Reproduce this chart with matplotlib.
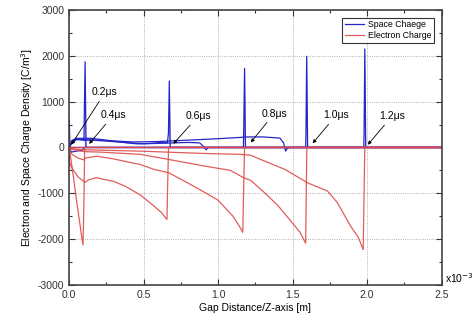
import matplotlib
matplotlib.use("Agg")
import matplotlib.pyplot as plt
from matplotlib.ticker import MultipleLocator, FormatStrFormatter

plt.rcParams['font.family'] = ['Liberation Sans', 'DejaVu Sans']
plt.rcParams['axes.unicode_minus'] = False

# gap distance in units of 1e-3 m, charge density in C/m^3
# electron charge curves (red), one per time step
r02_x = [0, 0.003, 0.006, 0.01, 2.5]
r02_y = [-480, -300, -80, 0, 0]
r04_x = [0, 0.01, 0.03, 0.05, 0.07, 0.085, 0.094, 0.1, 0.105, 2.5]
r04_y = [-50, -200, -650, -1150, -1600, -1950, -2130, -1200, 0, 0]
r06_x = [0, 0.02, 0.06, 0.1, 0.108, 0.13, 0.18, 0.3, 0.38, 0.48, 0.56, 0.62, 0.657, 0.662, 0.668, 2.5]
r06_y = [-300, -450, -640, -740, -760, -710, -660, -740, -850, -1040, -1250, -1420, -1570, -800, 0, 0]
r08_x = [0, 0.02, 0.06, 0.097, 0.11, 0.186, 0.3, 0.4, 0.478, 0.572, 0.668, 0.8, 0.9, 1.0, 1.1, 1.14, 1.166, 1.172, 1.178, 2.5]
r08_y = [-60, -150, -230, -270, -230, -190, -250, -320, -370, -480, -550, -780, -960, -1150, -1500, -1700, -1850, -900, 0, 0]
r10_x = [0, 0.1, 0.2, 0.478, 0.7, 0.9, 1.083, 1.166, 1.22, 1.3, 1.4, 1.487, 1.55, 1.588, 1.592, 1.596, 2.5]
r10_y = [-30, -90, -100, -150, -280, -400, -500, -650, -720, -950, -1260, -1600, -1850, -2090, -1000, 0, 0]
r12_x = [0, 0.1, 0.478, 0.9, 1.15, 1.22, 1.3, 1.45, 1.6, 1.734, 1.8, 1.89, 1.94, 1.974, 1.98, 1.985, 2.5]
r12_y = [-20, -50, -80, -130, -150, -170, -280, -480, -770, -950, -1200, -1720, -1950, -2230, -1000, 0, 0]

# space charge curves (blue)
b02_x = [0, 0.002, 0.005, 0.008, 0.015, 0.05, 0.09, 0.1, 2.5]
b02_y = [-450, 600, 150, -50, -100, -80, -60, 0, 0]
b04_x = [0, 0.01, 0.02, 0.05, 0.09, 0.1, 0.103, 0.108, 0.114, 0.12, 2.5]
b04_y = [0, 80, 150, 180, 170, 150, 800, 1870, 0, 0, 0]
b06_x = [0, 0.02, 0.05, 0.15, 0.25, 0.35, 0.45, 0.55, 0.62, 0.66, 0.667, 0.673, 0.679, 2.5]
b06_y = [0, 150, 200, 200, 160, 120, 80, 90, 110, 100, 300, 1450, 0, 0]
b08_x = [0, 0.02, 0.05, 0.25, 0.4, 0.5, 0.6, 0.7, 0.8, 0.877, 0.9, 0.92, 0.935, 1.17, 1.172, 1.178, 1.184, 2.5]
b08_y = [0, 120, 180, 140, 100, 80, 90, 100, 110, 100, 30, -50, 0, 0, 300, 1725, 0, 0]
b10_x = [0, 0.02, 0.05, 0.2, 0.43, 0.6, 0.8, 0.99, 1.1, 1.2, 1.3, 1.415, 1.44, 1.453, 1.465, 1.48, 1.588, 1.590, 1.595, 1.601, 2.5]
b10_y = [0, 100, 170, 160, 120, 130, 160, 190, 210, 230, 230, 205, 100, -80, -20, 0, 0, 300, 1990, 0, 0]
b12_x = [0, 1.978, 1.980, 1.985, 1.991, 2.5]
b12_y = [0, 0, 300, 2150, 0, 0]

# time labels: text position and arrow tip
labels = ['0.2\u03bcs', '0.4\u03bcs', '0.6\u03bcs', '0.8\u03bcs', '1.0\u03bcs', '1.2\u03bcs']
label_x = [0.155, 0.21, 0.78, 1.29, 1.705, 2.08]
label_y = [1200, 700, 680, 740, 700, 680]
tip_x = [0.015, 0.135, 0.70, 1.22, 1.635, 2.005]
tip_y = [60, 80, 80, 110, 90, 60]

red = '#e04a4a'
blue = '#2626c8'

fig = plt.figure(figsize=(4.77, 3.22), dpi=100)
ax = fig.add_axes([0.1447, 0.115, 0.781, 0.854])

reds = [(r02_x, r02_y), (r04_x, r04_y), (r06_x, r06_y), (r08_x, r08_y), (r10_x, r10_y), (r12_x, r12_y)]
blues = [(b02_x, b02_y), (b04_x, b04_y), (b06_x, b06_y), (b08_x, b08_y), (b10_x, b10_y), (b12_x, b12_y)]

for i, (x, y) in enumerate(blues):
    ax.plot(x, y, color=blue, lw=0.9, label='Space Chaege' if i == 0 else None)
    ax.fill_between(x, y, 0, where=[v > 400 for v in y], interpolate=True, color='#8080e0', alpha=0.5, lw=0)
for i, (x, y) in enumerate(reds):
    ax.plot(x, y, color=red, lw=0.9, alpha=0.9, label='Electron Charge' if i == 0 else None)

for t, lx, ly, tx, ty in zip(labels, label_x, label_y, tip_x, tip_y):
    ax.annotate(t, xy=(tx, ty), xytext=(lx, ly), fontsize=7.5, ha='left', va='center',
                arrowprops=dict(arrowstyle='-|>', color='black', lw=0.6, mutation_scale=5,
                                shrinkA=1, shrinkB=0))

ax.set_xlim(0, 2.5)
ax.set_ylim(-3000, 3000)
ax.xaxis.set_major_locator(MultipleLocator(0.5))
ax.xaxis.set_minor_locator(MultipleLocator(0.25))
ax.yaxis.set_major_locator(MultipleLocator(1000))
ax.yaxis.set_minor_locator(MultipleLocator(500))
ax.xaxis.set_major_formatter(FormatStrFormatter('%.1f'))
ax.tick_params(which='both', direction='in', top=True, right=True, labelsize=7.5, colors='#333333')
ax.tick_params(which='major', length=4, width=0.8)
ax.tick_params(which='minor', length=2, width=0.8)
ax.grid(True, which='major', linestyle=':', color='#999999', lw=0.6)
for s in ax.spines.values():
    s.set_color('#444444')
    s.set_linewidth(1.2)

ax.set_xlabel('Gap Distance/Z-axis [m]', fontsize=7.5, labelpad=2)
ax.set_ylabel('Electron and Space Charge Density [C/m$^3$]', fontsize=7.5, labelpad=2)
ax.text(1.01, 0.0, 'x10$^{-3}$', transform=ax.transAxes, fontsize=7.5, ha='left', va='bottom')

leg = ax.legend(loc='upper right', fontsize=6.3, frameon=True, fancybox=False, borderpad=0.3,
                handlelength=2.2, handletextpad=0.4, labelspacing=0.2, borderaxespad=0.9)
leg.get_frame().set_edgecolor('black')
leg.get_frame().set_linewidth(0.8)

fig.savefig('out.png', dpi=100)
